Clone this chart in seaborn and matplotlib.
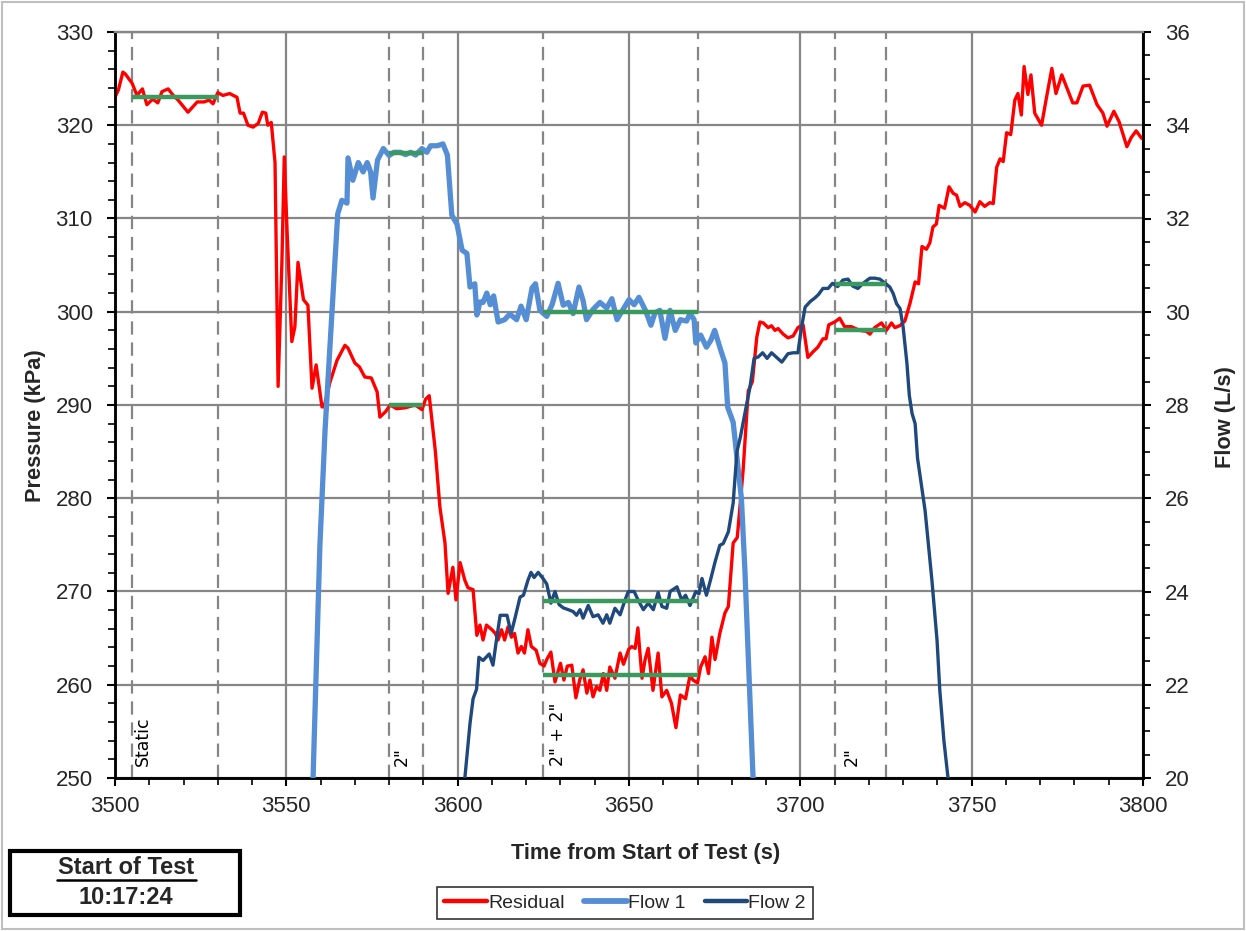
import matplotlib
matplotlib.use("Agg")
import matplotlib.pyplot as plt
from matplotlib.lines import Line2D
from matplotlib.patches import Rectangle
from matplotlib.ticker import MultipleLocator
import seaborn as sns
import pandas as pd

# ---------------- data ----------------
res_t = [3500, 3501, 3502.3, 3503, 3505, 3506.4, 3508, 3509.3, 3511, 3512.5, 3513.7, 3515.5, 3517,
         3518.4, 3521.3, 3524, 3526, 3527.5, 3528.6, 3530, 3531.5, 3533.5, 3534.5, 3535.6, 3536.5,
         3537.5, 3538.8, 3540.3, 3541.8, 3543, 3544, 3544.6, 3545.6, 3546.7, 3547.6, 3548.7, 3549.4,
         3550.2, 3551.6, 3552.5, 3553.4, 3555, 3556.3, 3557.5, 3558.7, 3560.4, 3561, 3562.7, 3564.8,
         3567.1, 3568, 3570, 3571.3, 3572.9, 3574.8, 3576.5, 3577.3, 3579, 3580.3, 3582.2, 3584.7,
         3587.6, 3589.6, 3590.6, 3591.7, 3593.5, 3594.8, 3596.3, 3597.2, 3598.6, 3599.5, 3600.7, 3602.1, 3603,
         3604.5, 3605.6, 3606.5, 3607.4, 3608.4, 3610, 3611, 3611.8, 3612.8, 3613.7, 3614.7, 3615.7,
         3616.6, 3617.6, 3618.6, 3619.5, 3620.5, 3621.5, 3622.9, 3624, 3625.2, 3626, 3627.2, 3628.4,
         3630, 3631, 3632, 3633.3, 3634.5, 3635.6, 3636.6, 3637.7, 3638.6, 3639.5, 3640.5, 3641.5,
         3642.5, 3643.5, 3644.4, 3645.9, 3647.4, 3648.4, 3649.9, 3650.8, 3651.8, 3652.6, 3653.8,
         3654.7, 3655.6, 3657, 3658.5, 3659.6, 3661, 3662.4, 3663.7, 3665, 3666.5, 3667.8, 3668.7,
         3670, 3670.9, 3672.2, 3673.2, 3674.2, 3675.1, 3676.5, 3678, 3679, 3680.4, 3681.6, 3683.3,
         3684.8, 3686.0, 3687.3, 3688.2, 3689.2, 3690.6, 3691.6, 3692.6, 3693.5, 3695, 3696.4, 3697.9,
         3699.3, 3700.8, 3702.2, 3703.7, 3705.1, 3706.6, 3707.5, 3708.3, 3710, 3711.5, 3712.9, 3714.9,
         3717.3, 3719.3, 3720.3, 3721.7, 3723.7, 3725.1, 3726.6, 3727.6, 3729, 3730.5, 3732, 3733.5,
         3734.5, 3735.5, 3736.8, 3737.8, 3738.7, 3739.7, 3740.5, 3742.1, 3743.4, 3744.6, 3745.6,
         3746.6, 3748, 3749.5, 3751, 3752.4, 3753.8, 3755.3, 3756.3, 3757.3, 3758.3, 3759.2, 3760.2,
         3761.4, 3762.6, 3763.5, 3764.5, 3765.3, 3766.4, 3767.3, 3768.4, 3770.4, 3771.8, 3773.4,
         3774.6, 3776.3, 3777.7, 3779.5, 3780.7, 3782.5, 3784.4, 3786.6, 3788.3, 3789.5, 3791.5,
         3793, 3794.2, 3795.3, 3796.6, 3798, 3799.6]
res_p = [323.0, 323.8, 325.7, 325.5, 324.5, 323.2, 323.9, 322.2, 322.8, 322.4, 323.6, 323.9, 323.2,
         322.7, 321.4, 322.5, 322.5, 322.7, 322.3, 323.5, 323.2, 323.4, 323.2, 323.0, 321.3,
         321.3, 320.0, 319.8, 320.2, 321.4, 321.3, 320.0, 320.3, 316.0, 292.0, 305.2, 316.6,
         308.8, 296.8, 298.4, 305.3, 301.3, 300.7, 291.8, 294.3, 289.8, 289.8, 292.4, 294.8,
         296.4, 296.1, 294.5, 294.1, 293.0, 292.9, 291.4, 288.7, 289.3, 290.0, 289.6, 289.7,
         290.0, 289.5, 290.6, 291.0, 285.0, 279.1, 275.2, 269.8, 272.6, 269.1, 273.1, 271.2, 270.4,
         270.2, 265.3, 266.4, 264.8, 266.4, 265.9, 265.5, 264.8, 265.9, 264.8, 266.2, 265.1,
         265.5, 263.4, 264.1, 263.4, 265.9, 264.1, 263.7, 262.3, 262.0, 262.7, 263.5, 260.3,
         262.3, 260.5, 262.0, 262.1, 258.6, 260.5, 261.6, 259.1, 260.5, 258.7, 259.8, 259.4,
         261.2, 259.4, 261.9, 260.7, 263.4, 262.2, 263.8, 264.1, 263.9, 266.1, 260.7,
         262.7, 263.9, 259.4, 263.4, 258.7, 259.4, 258.0, 255.4, 258.9, 258.5, 261.0, 260.5,
         260.2, 261.9, 263.0, 261.2, 265.1, 262.7, 265.5, 267.7, 268.4, 275.2, 275.8, 283.0,
         291.5, 292.5, 297.3, 298.9, 298.8, 298.3, 298.5, 298.0, 298.2, 297.6, 297.2, 297.4,
         298.3, 298.6, 295.1, 295.7, 296.2, 297.1, 297.1, 298.6, 298.9, 299.3, 298.4, 298.4,
         298.0, 297.9, 297.6, 298.3, 298.8, 298.0, 298.8, 298.3, 298.5, 299.0, 300.9, 303.2,
         303.0, 307.0, 306.7, 307.4, 309.1, 309.4, 311.4, 311.1, 313.4, 312.7, 312.5,
         311.3, 311.7, 311.4, 310.7, 311.8, 311.3, 311.7, 311.6, 315.5, 316.4, 316.1, 319.2,
         319.0, 322.7, 323.4, 321.1, 326.3, 323.3, 325.4, 321.3, 320.0, 322.9, 326.1,
         323.4, 325.4, 324.1, 322.4, 322.4, 324.2, 324.3, 322.2, 321.3, 319.9, 321.5,
         320.4, 319.0, 317.7, 318.7, 319.4, 318.6]

f1_t = [3557.8, 3559.8, 3561.3, 3565.0, 3566.2, 3567.7, 3568.0, 3569.4, 3571, 3572.4, 3573.6, 3574.6,
        3575.3, 3576.6, 3578.3, 3580, 3581.4, 3583.3, 3584.8, 3586.3, 3587.7, 3589.6, 3591, 3592.1,
        3594, 3595.7, 3597, 3598.3, 3599.8, 3601.3, 3602.7, 3603.6, 3605, 3605.6, 3606.5, 3607.4,
        3608.5, 3609.5, 3610.5, 3611.8, 3613.7, 3615.2, 3617.2, 3618.5, 3620, 3621.7, 3622.7, 3624,
        3626, 3627.6, 3629.3, 3630.8, 3632.3, 3633.7, 3635.4, 3636.6, 3637.6, 3639.5, 3641.5, 3643.5,
        3645, 3646.5, 3648.1, 3650, 3651.5, 3652.9, 3654.8, 3656.4, 3657.6, 3659, 3660.5, 3662,
        3663.5, 3665, 3666.8, 3667.8, 3669, 3669.5, 3670.9, 3672.6, 3673.9, 3675, 3676.8, 3678,
        3678.8, 3680.4, 3681.8, 3682.8, 3683.8, 3686.2]
f1_q = [20.0, 25.0, 27.46, 32.1, 32.39, 32.33, 33.3, 32.82, 33.2, 33.0, 33.2, 33.0,
        32.44, 33.25, 33.5, 33.35, 33.42, 33.42, 33.37, 33.42, 33.36, 33.5, 33.42, 33.56,
        33.56, 33.6, 33.36, 32.07, 31.88, 31.32, 31.25, 30.53, 30.6, 29.93, 30.21, 30.2,
        30.4, 30.15, 30.34, 29.78, 29.83, 29.95, 29.83, 30.12, 29.83, 30.51, 30.6, 30.03,
        29.9, 30.16, 30.61, 30.14, 30.2, 29.96, 30.53, 30.24, 29.83, 30.05, 30.2, 30.08,
        30.28, 29.83, 30.03, 30.26, 30.15, 30.31, 30.03, 29.71, 29.98, 30.03, 29.43, 30.03,
        29.6, 29.83, 29.8, 29.96, 29.83, 29.33, 29.5, 29.24, 29.39, 29.6, 29.17, 28.9,
        27.95, 27.63, 26.67, 26.0, 24.5, 20.0]

f2_t = [3602.1, 3603.6, 3604.5, 3605.5, 3606.2, 3607.4, 3609.2, 3610.3, 3611.3, 3612.4, 3614.4, 3615.6,
        3616.8, 3618.2, 3619.2, 3620.5, 3621.4, 3622.3, 3623.5, 3625, 3626, 3627.2, 3628.4, 3629.6,
        3630.8, 3632.3, 3633.7, 3634.7, 3635.7, 3636.6, 3638.1, 3639.5, 3641, 3642.4, 3643.5, 3644.4,
        3645.9, 3647.4, 3648.8, 3649.8, 3651.5, 3652.7, 3654.2, 3655.6, 3657.1, 3658.5, 3659.6, 3661,
        3662, 3664, 3665.4, 3666.5, 3667.8, 3669.5, 3670.4, 3671.3, 3672.6, 3673.9, 3675.1, 3676.5,
        3677.5, 3679, 3680.4, 3681.5, 3682.5, 3683.9, 3685.3, 3686.5, 3687.7, 3689, 3690.3, 3691.6,
        3693.1, 3694.6, 3696.4, 3697.9, 3699.3, 3700.2, 3701.4, 3702.9, 3704.3, 3705.3, 3706.6, 3708.1,
        3709.4, 3710.9, 3712.4, 3713.9, 3715.3, 3716.8, 3718.3, 3720.3, 3721.7, 3723.2, 3724.6, 3726.1,
        3727.1, 3728.1, 3729.1, 3730, 3731.1, 3731.8, 3732.6, 3733.5, 3734.2, 3736.4, 3738.4, 3739.9,
        3740.7, 3741.9, 3743.1]
f2_q = [20.0, 21.17, 21.7, 21.9, 22.59, 22.52, 22.66, 22.42, 22.95, 23.49, 23.49, 23.1,
        23.45, 23.88, 23.92, 24.24, 24.41, 24.3, 24.41, 24.27, 24.16, 23.75, 24.0, 23.72,
        23.65, 23.61, 23.57, 23.49, 23.61, 23.43, 23.7, 23.46, 23.5, 23.32, 23.5, 23.32,
        23.64, 23.5, 23.81, 24.0, 24.0, 23.81, 23.61, 23.75, 23.61, 23.98, 23.68, 23.64,
        24.0, 24.1, 23.81, 23.92, 23.7, 24.0, 23.95, 24.28, 23.92, 24.28, 24.63, 24.99,
        25.03, 25.28, 25.9, 27.0, 27.31, 27.85, 28.38, 29.0, 29.03, 29.12, 29.0, 29.12,
        29.02, 28.92, 29.1, 29.12, 29.12, 29.6, 30.1, 30.22, 30.3, 30.37, 30.5, 30.5,
        30.61, 30.54, 30.68, 30.7, 30.55, 30.5, 30.61, 30.72, 30.72, 30.7, 30.62, 30.53,
        30.39, 30.17, 30.07, 29.67, 28.9, 28.21, 27.82, 27.6, 26.86, 25.74, 24.24, 22.95,
        21.88, 20.8, 20.0]

# average (green) segments
res_avg_start = [3505, 3580, 3625, 3710]
res_avg_end = [3530, 3590, 3670, 3725]
res_avg_val = [323, 290, 261, 298]
flow_avg_start = [3580, 3625, 3625, 3710]
flow_avg_end = [3590, 3670, 3670, 3725]
flow_avg_val = [33.4, 30.0, 23.8, 30.6]

# test windows (dashed lines) and labels
window_times = [3505, 3530, 3580, 3590, 3625, 3670, 3710, 3725]
label_times = [3508.2, 3583.8, 3629.3, 3715.0]
label_texts = ["Static", "2\"", "2\" + 2\"", "2\""]

x_ticks = [3500, 3550, 3600, 3650, 3700, 3750, 3800]
y_ticks = [250, 260, 270, 280, 290, 300, 310, 320, 330]
y2_ticks = [20, 22, 24, 26, 28, 30, 32, 34, 36]

# ---------------- style ----------------
sns.set_theme(style="white")
plt.rcParams['font.family'] = ['Liberation Sans', 'DejaVu Sans']

RED = "#FF0000"
BLUE1 = "#558ED5"
BLUE2 = "#1F497D"
GREEN = "#3A9A5E"
GRID = "#868686"

fig = plt.figure(figsize=(12.46, 9.31), dpi=100)
ax = fig.add_axes([115/1246, 1-778/931, (1143-115)/1246, (778-32)/931])
ax2 = ax.twinx()

df_res = pd.DataFrame({"t": res_t, "p": res_p})
df_f1 = pd.DataFrame({"t": f1_t, "q": f1_q})
df_f2 = pd.DataFrame({"t": f2_t, "q": f2_q})

# window lines
for t in window_times:
    ax.axvline(t, color=GRID, lw=1.6, dashes=(6, 3.5), zorder=1)

sns.lineplot(data=df_res, x="t", y="p", ax=ax, color=RED, lw=2.4, sort=False,
             estimator=None, zorder=3, legend=False)
ax.hlines(res_avg_val, res_avg_start, res_avg_end, color=GREEN, lw=3.2, zorder=4)

sns.lineplot(data=df_f1, x="t", y="q", ax=ax2, color=BLUE1, lw=3.8, sort=False,
             estimator=None, zorder=3, legend=False)
sns.lineplot(data=df_f2, x="t", y="q", ax=ax2, color=BLUE2, lw=2.4, sort=False,
             estimator=None, zorder=3, legend=False)
ax2.hlines(flow_avg_val, flow_avg_start, flow_avg_end, color=GREEN, lw=3.2, zorder=4)

for t, s in zip(label_times, label_texts):
    ax.text(t, 251.3, s, rotation=90, ha="center", va="bottom", fontsize=12.5,
            family="DejaVu Sans", color="black", zorder=5)

ax.set_xlim(3500, 3800)
ax.set_ylim(250, 330)
ax2.set_ylim(20, 36)
ax.set_xticks(x_ticks)
ax.set_yticks(y_ticks)
ax2.set_yticks(y2_ticks)
ax.xaxis.set_minor_locator(MultipleLocator(10))
ax.yaxis.set_minor_locator(MultipleLocator(2))
ax2.yaxis.set_minor_locator(MultipleLocator(0.5))

ax.grid(True, which="major", color=GRID, lw=1.6, zorder=0)
ax.set_axisbelow(True)
ax2.grid(False)

ax.tick_params(axis="both", which="major", direction="out", length=6, width=1.5,
               labelsize=16, color="black", bottom=True, left=True)
ax.tick_params(axis="both", which="minor", direction="out", length=5, width=1.2,
               color="black", bottom=True, left=True)
ax.tick_params(axis="y", pad=10)
ax.tick_params(axis="x", pad=7)
ax2.tick_params(axis="y", which="major", direction="out", length=6, width=1.5,
                labelsize=16, color="black", right=True, pad=10)
ax2.tick_params(axis="y", which="minor", direction="out", length=5, width=1.2,
                color="black", right=True)

for a in (ax, ax2):
    a.set_xlabel("")
    a.set_ylabel("")
    for side in ("left", "bottom", "right"):
        a.spines[side].set_color("black")
        a.spines[side].set_linewidth(1.8)
    a.spines["top"].set_color(GRID)
    a.spines["top"].set_linewidth(1.6)

# axis titles
fig.text(646/1246, 1-853/931, "Time from Start of Test (s)", ha="center", va="center",
         fontsize=15.7, fontweight="bold")
fig.text(36/1246, 1-426/931, "Pressure (kPa)", ha="center", va="center", rotation=90,
         fontsize=15.7, fontweight="bold")
fig.text(1226/1246, 1-417/931, "Flow (L/s)", ha="center", va="center", rotation=90,
         fontsize=15.7, fontweight="bold")

# start-of-test box
fig.add_artist(Rectangle((10/1246, 1-915/931), 230/1246, 64/931, transform=fig.transFigure,
                         fill=False, edgecolor="black", lw=3))
fig.text(126/1246, 1-868/931, "Start of Test", ha="center", va="center", fontsize=17,
         fontweight="bold")
fig.add_artist(Line2D([57/1246, 196/1246], [1-880/931, 1-880/931], transform=fig.transFigure,
                      color="black", lw=1.8))
fig.text(126/1246, 1-898/931, "10:17:24", ha="center", va="center", fontsize=17,
         fontweight="bold")

# legend
handles = [Line2D([], [], color=RED, lw=3.2), Line2D([], [], color=BLUE1, lw=4.2),
           Line2D([], [], color=BLUE2, lw=3.2)]
leg = fig.legend(handles, ["Residual", "Flow 1", "Flow 2"], loc="center",
                 bbox_to_anchor=(625/1246, 1-903/931), ncol=3, fontsize=14, frameon=True,
                 fancybox=False, edgecolor="black", handlelength=2.2, handletextpad=0.05,
                 columnspacing=1.0, borderpad=0.35)
leg.get_frame().set_linewidth(1.2)

# outer figure border
fig.add_artist(Rectangle((0.002, 0.002), 0.996, 0.996, transform=fig.transFigure,
                         fill=False, edgecolor="#BFBFBF", lw=1.5))

fig.savefig("out.png", dpi=100)
